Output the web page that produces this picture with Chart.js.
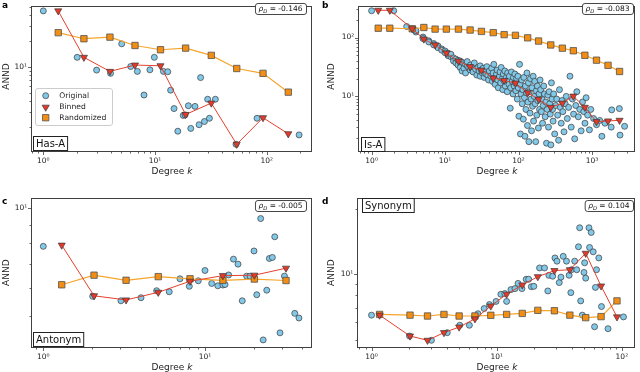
<!DOCTYPE html>
<html><head><meta charset="utf-8">
<script src="https://cdn.jsdelivr.net/npm/chart.js@4.4.0/dist/chart.umd.min.js"></script>
<style>
html,body{margin:0;padding:0;background:#fff;}
#wrap{position:relative;width:640px;height:372px;overflow:hidden;background:#fff;}
canvas{position:absolute;left:0;top:0;}
</style></head><body>
<div id="wrap">
<canvas id="ca" width="640" height="372"></canvas>
<canvas id="cb" width="640" height="372"></canvas>
<canvas id="cc" width="640" height="372"></canvas>
<canvas id="cd" width="640" height="372"></canvas>
</div>
<script>
// ---------------- DATA ----------------
// Panel a: Has-A
const hasA_original = [[1,44.5],[2.01,12.9],[3,9.18],[4,8.42],[5.03,18.5],[6.06,10.1],[6.95,8.87],[7.97,4.72],[9,9.25],[9.86,12.9],[11.9,8.87],[13,8.79],[13.8,5.37],[14.8,3.29],[16,1.8],[17.9,2.74],[18.6,2.78],[19.9,3.55],[20.9,1.94],[22.8,3.49],[24.8,2.14],[25.6,7.52],[27.7,2.33],[29.6,4.22],[30.7,2.54],[34.7,4.22],[53.1,1.27],[81.9,2.54],[195,1.63]];
const hasA_binnedK = [1.36,2.31,3.95,6.62,11.2,18.8,31.9,53.9,92.7,156];
const hasA_binned = [44.5,12.9,8.87,10.5,10.3,2.81,3.81,1.27,2.58,1.68];
const hasA_randomized = [24.9,21.2,22.1,17.7,15.8,16.5,13.6,9.58,8.42,5.1];

// Panel b: Is-A
const isA_original = [
[1,285],[2,285],[3,154],[4,124],[4,131],[5,102],[5,96],[6,88],[6,84],[7,79],[7,75],[8,72],[8,67],[9,64],[9,61],[10,59],[10,55],
[11,54],[11,49],[12,47],[12,52],[13,45],[13,40],[14,43],[14,37],[15,41],[15,34],[16,40],[16,31],[17,38],[17,27],[18,36],[18,30],[19,35],[19,25],[20,33],[20,39],
[21,31],[22,34],[22,28],[23,30],[24,32],[24,26],[25,37],[26,29],[27,23],[28,31],[29,27],[30,33],[30,22],[31,28],[32,25],[33,30],[34,21],[35,27],[36,24],[37,32],[38,23],[39,19],[40,27],
[42,22],[43,30],[44,18],[45,25],[46,35],[47,20],[48,16],[50,24],[51,28],[52,19],[53,14],[55,22],[56,26],[57,17],[58,31],[60,20],[61,13],[62,24],[64,18],[65,27],[66,15],[68,21],[70,12],[71,25],[72,19],[74,16],[75,22],[77,6.3],[78,14],[80,26],[82,18],[84,11],[85,21],[87,15],[89,24],[90,17],[92,12.5],[94,20],[96,9],[98,22],[99,14],
[101,4.6],[103,35],[105,16],[106,2.3],[108,11],[110,19],[112,7.5],[114,13],[116,4.1],[118,21],[120,9.5],[122,2.1],[124,15],[126,6],[128,11.5],[130,25],[132,3.2],[134,8],[136,17],[138,1.7],[140,12],[143,5.2],[145,20],[148,9],[150,2.6],[152,14],[155,6.8],[158,22],[160,3.8],[163,10],[166,18],[168,7.5],[171,1.7],[174,12.5],[177,4.8],[180,15],[183,8.5],[186,2.9],[190,11],[193,6],[196,19],[200,13],[204,5.5],[208,9],[212,3.5],[216,7],[220,15],[225,11],[230,4.5],[235,8],[240,1.6],[245,6],[250,10.5],[255,3],[260,12],[265,7.5],[270,5],[275,1.5],[280,17],[285,9],[290,6],[295,3.8],[300,11],
[310,2.3],[320,7],[330,9],[340,4.8],[350,1.8],[360,13],[370,6.5],[380,3.5],[390,8.5],[400,5.5],[415,2.5],[430,7.5],[445,10],[460,4.2],[480,6.5],[500,22],[520,3],[540,9],[560,5],[580,1.9],[600,7],[620,12],[650,4.5],[680,6],[710,2.6],[740,8],[770,5.5],[800,3.5],[830,9.5],[870,4.8],[920,2.7],[960,6],
[1050,4.2],[1150,3.3],[1270,3.9],[1360,2.1],[1500,3.5],[1820,3.0],[1850,5.9],[2350,6.2],[2400,2.2],[2770,3.1]];
const isA_binnedK = [1.23,1.77,3.57,5.14,7.31,10.4,15.2,21.9,31.2,45.2,63.6,90.6,133,187,274,394,556,798,1148,1648,2366];
const isA_binned = [290,290,141,94,74.8,54.5,39.7,32,27.8,20.5,18.6,16.8,11.5,8.93,6.51,7.67,10.1,6.51,3.72,3.82,3.92];
const isA_randomized = [144,144,141,148,139,139,139,134,127,121,112,109,98.8,87.1,74.8,65.9,59.6,49.9,41.2,33.7,26.5];

// Panel c: Antonym
const antonym_original = [[1,7.83],[2.02,5.67],[3.02,5.51],[4.02,5.62],[5.02,5.88],[6.01,5.84],[7,6.35],[8,6.05],[9.09,6.27],[10,6.7],[11,6.16],[12,6.07],[12.9,6.1],[13.3,6.12],[14,6.51],[15,7.21],[16,6.98],[17,5.51],[18.1,6.46],[19,6.46],[20.1,7.6],[20.9,5.73],[22.1,9.37],[22.9,4.28],[24.1,5.9],[25,7.24],[26.1,7.29],[27,8.33],[29.1,4.48],[31,6.46],[35.9,5.08],[38.1,4.93]];
const antonym_binnedK = [1.3,2.06,3.25,5.14,8.08,12.9,20.2,31.7];
const antonym_binned = [7.89,5.69,5.54,5.82,6.25,6.48,6.5,6.8];
const antonym_randomized = [6.11,6.5,6.29,6.44,6.35,6.29,6.34,6.28];

// Panel d: Synonym
const synonym_original = [[1,6.48],[2.01,5.19],[3.01,4.96],[4.03,5.38],[5.07,5.82],[6.05,5.82],[7.08,6.58],[7.94,6.95],[8.75,7.25],[9.88,7.5],[10.8,8.09],[11.6,8.15],[12,7.5],[13,8.5],[14,8.59],[14.8,9.08],[15.9,8.59],[17.2,9.49],[18,9.49],[18.9,8.77],[19.8,8.8],[22,10.7],[24.1,10.7],[25.6,8.38],[26.1,9.89],[28,9.8],[29.2,11.9],[30.3,11.5],[31.6,9.16],[32.6,9.7],[34,12.1],[36.1,11.5],[37.9,9.9],[39.1,8.23],[39.6,10.5],[42,11.5],[43.6,10.5],[45,13.4],[46,16.4],[46.9,7.54],[48.3,6.48],[49.8,10.2],[50.4,11.3],[51.4,9.6],[54.6,16.4],[55.2,13.3],[56.9,15.6],[59,12.7],[60.5,5.73],[61.5,8.7],[62.7,10.5],[65.4,11.9],[68.7,7.1],[77.5,5.61],[103,6.36]];
const synonym_binnedK = [1.16,2.03,2.8,3.79,5.01,6.7,8.97,12,16,21.3,28.9,38.4,51.4,68.2,91.4];
const synonym_binned = [6.48,5.19,4.96,5.38,5.71,6.23,7.14,8.09,8.93,9.75,10.4,10.5,12.5,8.83,6.36];
const synonym_randomized = [6.53,6.48,6.42,6.53,6.42,6.42,6.47,6.53,6.6,6.82,6.79,6.48,6.31,6.38,7.54];

const seriesNames = ['Original','Binned','Randomized'];
const rhoValues = ['-0.146','-0.083','-0.005','0.104'];
const relationNames = ['Has-A','Is-A','Antonym','Synonym'];

// ---------------- STYLE / LAYOUT ----------------
const FONT = "'DejaVu Sans', sans-serif";
const C = {
  origFill:'#82c8e8', edge:'#3a3a3a',
  binFill:'#e5392a', binLine:'#e5402e',
  randFill:'#f28e14', randLine:'#f6a52c'
};
const M = {circle:3, tri:4.1, rect:4.5};
const panels = [
 {id:'ca', frame:[32,1,312,152], xr:[0.792,254.4], yr:[1.034,51.4], xt:[1,10,100], yt:[10],
  orig:hasA_original, bk:hasA_binnedK, b:hasA_binned, r:hasA_randomized, letter:'a', letterPos:[2,8],
  name:relationNames[0], nameBox:[33,136], rho:rhoValues[0], rhoRT:[306,3], annd:[7,76.5], deg:[172,172], legend:true},
 {id:'cb', frame:[359.3,1,637,152], xr:[0.68,3802], yr:[1.135,350], xt:[1,10,100,1000], yt:[10,100],
  orig:isA_original, bk:isA_binnedK, b:isA_binned, r:isA_randomized, letter:'b', letterPos:[322,8],
  name:relationNames[1], nameBox:[361,137], rho:rhoValues[1], rhoRT:[633,3], annd:[332,76.5], deg:[497,172], legend:false},
 {id:'cc', frame:[32.3,197.7,311.7,347.7], xr:[0.855,45.7], yr:[4.07,10.72], xt:[1,10], yt:[10],
  orig:antonym_original, bk:antonym_binnedK, b:antonym_binned, r:antonym_randomized, letter:'c', letterPos:[2,204],
  name:relationNames[2], nameBox:[33,332], rho:rhoValues[2], rhoRT:[306,200], annd:[7,272.7], deg:[172,368], legend:false},
 {id:'cd', frame:[358.3,197.7,638,347.7], xr:[0.784,126.6], yr:[4.585,22.57], xt:[1,10,100], yt:[10],
  orig:synonym_original, bk:synonym_binnedK, b:synonym_binned, r:synonym_randomized, letter:'d', letterPos:[322,204],
  name:relationNames[3], nameBox:[362,198], rho:rhoValues[3], rhoRT:[633,200], annd:[332,272.7], deg:[497,368], legend:false}
];

function supLabel(v){
  const e = Math.round(Math.log10(v));
  const s = {'0':'⁰','1':'¹','2':'²','3':'³','4':'⁴','-':'⁻'};
  return '10' + String(e).split('').map(ch=>s[ch]).join('');
}
function logTickVals(min,max){
  const out=[];
  for(let e=Math.floor(Math.log10(min)); e<=Math.ceil(Math.log10(max)); e++){
    for(let m=1;m<10;m++){ const v=m*Math.pow(10,e); if(v>=min*0.9999 && v<=max*1.0001) out.push([v,m===1]); }
  }
  return out;
}
function marker(ctx, style, x, y, r, fill, edge, bw){
  ctx.save(); ctx.beginPath();
  if(style==='circle'){ ctx.arc(x,y,r,0,Math.PI*2); }
  else if(style==='tri'){ // pointing down
    const a=[Math.PI, Math.PI+2*Math.PI/3, Math.PI+4*Math.PI/3];
    a.forEach((t,i)=>{ const px=x+Math.sin(t)*r, py=y-Math.cos(t)*r; i?ctx.lineTo(px,py):ctx.moveTo(px,py); });
    ctx.closePath();
  } else { const s=Math.SQRT1_2*r; ctx.rect(x-s,y-s,2*s,2*s); }
  ctx.fillStyle=fill; ctx.fill(); ctx.lineWidth=bw; ctx.strokeStyle=edge; ctx.stroke(); ctx.restore();
}
function rrect(ctx,x,y,w,h,r){
  ctx.beginPath(); ctx.moveTo(x+r,y); ctx.lineTo(x+w-r,y); ctx.quadraticCurveTo(x+w,y,x+w,y+r);
  ctx.lineTo(x+w,y+h-r); ctx.quadraticCurveTo(x+w,y+h,x+w-r,y+h); ctx.lineTo(x+r,y+h);
  ctx.quadraticCurveTo(x,y+h,x,y+h-r); ctx.lineTo(x,y+r); ctx.quadraticCurveTo(x,y,x+r,y); ctx.closePath();
}

function decor(P){
  return {
    id:'decor',
    afterDraw(chart){
      const ctx=chart.ctx, a=chart.chartArea, xs=chart.scales.x, ys=chart.scales.y;
      ctx.save();
      // frame
      ctx.strokeStyle='#404040'; ctx.lineWidth=1;
      const L=Math.round(a.left)-0.5, T=Math.round(a.top)+0.5, R=Math.round(a.right)-0.5, B=Math.round(a.bottom)-0.5;
      ctx.strokeRect(L,T,R-L,B-T);
      // ticks (outward), major + minor
      ctx.lineWidth=0.8; ctx.strokeStyle='#404040';
      logTickVals(P.xr[0],P.xr[1]).forEach(([v,maj])=>{
        const px=Math.round(xs.getPixelForValue(v))+0.5, len=maj?3.5:2;
        ctx.beginPath(); ctx.moveTo(px,B); ctx.lineTo(px,B+len); ctx.stroke();
      });
      logTickVals(P.yr[0],P.yr[1]).forEach(([v,maj])=>{
        const py=Math.round(ys.getPixelForValue(v))+0.5, len=maj?3.5:2;
        ctx.beginPath(); ctx.moveTo(L,py); ctx.lineTo(L-len,py); ctx.stroke();
      });
      // panel letter
      ctx.fillStyle='#000'; ctx.font=`bold 9px ${FONT}`; ctx.textBaseline='alphabetic'; ctx.textAlign='left';
      ctx.fillText(P.letter, P.letterPos[0], P.letterPos[1]);
      // axis titles
      ctx.font=`9px ${FONT}`; ctx.fillStyle='#222';
      ctx.save(); ctx.translate(P.annd[0],P.annd[1]); ctx.rotate(-Math.PI/2);
      ctx.textAlign='center'; ctx.textBaseline='middle'; ctx.fillText('ANND',0,0); ctx.restore();
      const t1='Degree '; ctx.font=`9px ${FONT}`; const w1=ctx.measureText(t1).width;
      ctx.font=`italic 9px ${FONT}`; const w2=ctx.measureText('k').width;
      let sx=P.deg[0]-(w1+w2)/2; ctx.textBaseline='middle'; ctx.textAlign='left';
      ctx.font=`9px ${FONT}`; ctx.fillText(t1,sx,P.deg[1]);
      ctx.font=`italic 9px ${FONT}`; ctx.fillText('k',sx+w1,P.deg[1]);
      // relation name box
      ctx.font=`10px ${FONT}`; const nw=ctx.measureText(P.name).width;
      const bx=P.nameBox[0], by=P.nameBox[1], bw=nw+5, bh=14;
      ctx.fillStyle='#fff'; ctx.fillRect(bx,by,bw,bh);
      ctx.strokeStyle='#222'; ctx.lineWidth=1; ctx.strokeRect(bx+0.5,by+0.5,bw,bh);
      ctx.fillStyle='#111'; ctx.textBaseline='middle'; ctx.fillText(P.name,bx+3,by+bh/2+1);
      // rho box
      const fs=7.5;
      ctx.font=`italic ${fs}px ${FONT}`; const wr=ctx.measureText('ρ').width;
      ctx.font=`italic ${fs*0.7}px ${FONT}`; const wd=ctx.measureText('D').width;
      const rt=' = '+P.rho; ctx.font=`${fs}px ${FONT}`; const wt=ctx.measureText(rt).width;
      const tw=wr+wd+wt, rbw=tw+7, rbh=11, rbx=P.rhoRT[0]-rbw, rby=P.rhoRT[1];
      rrect(ctx,rbx+0.5,rby+0.5,rbw,rbh,2.5); ctx.fillStyle='#fff'; ctx.fill(); ctx.strokeStyle='#333'; ctx.lineWidth=0.9; ctx.stroke();
      const ty=rby+rbh/2+1; let tx=rbx+3.5; ctx.fillStyle='#111'; ctx.textBaseline='middle';
      ctx.font=`italic ${fs}px ${FONT}`; ctx.fillText('ρ',tx,ty); tx+=wr;
      ctx.font=`italic ${fs*0.7}px ${FONT}`; ctx.fillText('D',tx,ty+2); tx+=wd;
      ctx.font=`${fs}px ${FONT}`; ctx.fillText(rt,tx,ty);
      // legend
      if(P.legend){
        rrect(ctx,35.5,88.5,77,37,2.5); ctx.fillStyle='rgba(255,255,255,0.85)'; ctx.fill();
        ctx.strokeStyle='#cccccc'; ctx.lineWidth=1; ctx.stroke();
        const rows=[95.7,106.7,117.7];
        marker(ctx,'circle',45.7,rows[0],M.circle,C.origFill,C.edge,0.7);
        marker(ctx,'tri',45.7,rows[1]+0.5,M.tri,C.binFill,C.edge,0.7);
        marker(ctx,'rect',45.7,rows[2],M.rect,C.randFill,'#505050',0.8);
        ctx.font=`7.6px ${FONT}`; ctx.fillStyle='#222'; ctx.textBaseline='middle';
        seriesNames.forEach((n,i)=>ctx.fillText(n,59.3,rows[i]+0.5));
      }
      ctx.restore();
    }
  };
}

function build(P){
  const datasets=[
    {label:seriesNames[0], data:P.orig.map(([x,y])=>({x,y})), showLine:false, pointStyle:'circle', pointRadius:M.circle,
     pointBackgroundColor:C.origFill, pointBorderColor:C.edge, pointBorderWidth:0.7, order:3},
    {label:seriesNames[2], data:P.bk.map((k,i)=>({x:k,y:P.r[i]})), showLine:true, borderColor:C.randLine, borderWidth:1.2,
     pointStyle:'rect', pointRadius:M.rect, pointBackgroundColor:C.randFill, pointBorderColor:'#505050', pointBorderWidth:0.8, order:2},
    {label:seriesNames[1], data:P.bk.map((k,i)=>({x:k,y:P.b[i]})), showLine:true, borderColor:C.binLine, borderWidth:1,
     pointStyle:'triangle', pointRotation:180, pointRadius:M.tri, pointBackgroundColor:C.binFill, pointBorderColor:C.edge, pointBorderWidth:0.7, order:1}
  ];
  const tickFont={family:'DejaVu Sans', size:7.5};
  return new Chart(document.getElementById(P.id),{
    type:'scatter',
    data:{datasets},
    options:{
      responsive:false, animation:false, devicePixelRatio:1, events:[],
      layout:{padding:{left:P.frame[0]-30, top:P.frame[1], right:640-P.frame[2], bottom:372-P.frame[3]-30}},
      plugins:{legend:{display:false}, tooltip:{enabled:false}},
      scales:{
        x:{type:'logarithmic', position:'bottom', bounds:'data', min:P.xr[0], max:P.xr[1],
           afterBuildTicks:s=>{s.ticks=P.xt.map(v=>({value:v}));}, afterFit:s=>{s.height=30;},
           grid:{display:false, drawTicks:true, tickLength:4}, border:{display:false},
           ticks:{autoSkip:false, maxRotation:0, minRotation:0, padding:1, color:'#222', font:tickFont, callback:v=>supLabel(v)}},
        y:{type:'logarithmic', position:'left', bounds:'data', min:P.yr[0], max:P.yr[1],
           afterBuildTicks:s=>{s.ticks=P.yt.map(v=>({value:v}));}, afterFit:s=>{s.width=30;},
           grid:{display:false, drawTicks:true, tickLength:4}, border:{display:false},
           ticks:{autoSkip:false, padding:1, color:'#222', font:tickFont, callback:v=>supLabel(v)}}
      }
    },
    plugins:[decor(P)]
  });
}
panels.forEach(build);
</script>
</body></html>
